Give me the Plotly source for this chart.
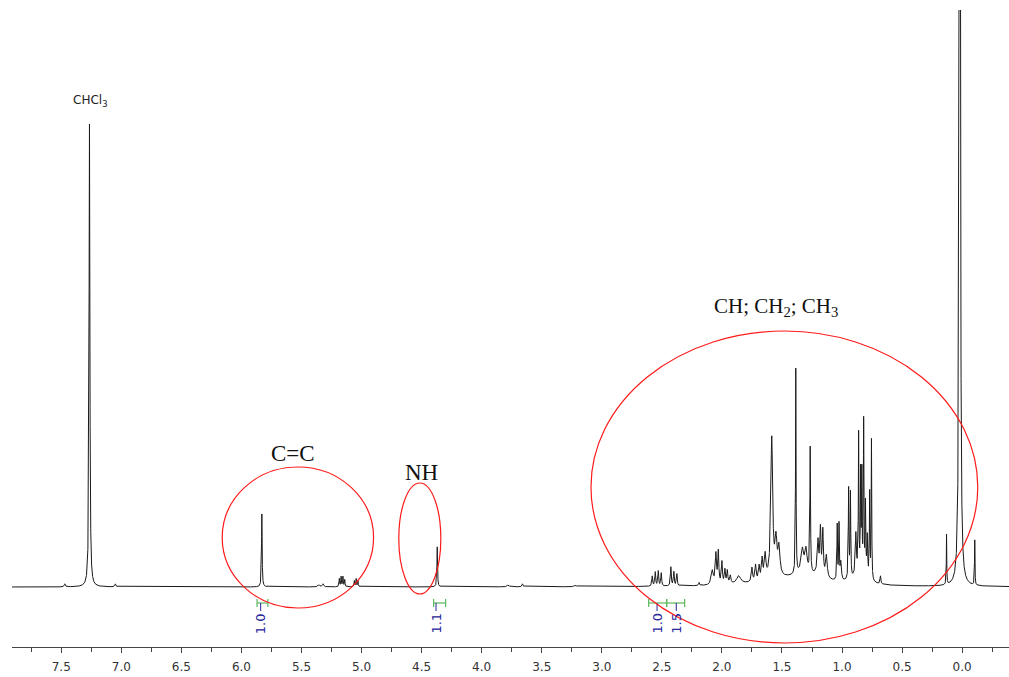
import numpy as np
import plotly.graph_objects as go

# ---- peak list (ppm, height, half-width in ppm) ----
peak_ppm = [7.265, 7.47, 7.05, 5.83, 5.355, 5.32, 5.185, 5.17, 5.155, 5.14,
            5.06, 5.045, 5.03, 4.37, 3.78, 3.66, 3.22,
            2.58, 2.555, 2.53, 2.505, 2.425, 2.40, 2.375, 2.19,
            2.08, 2.05, 2.03, 2.00, 1.975, 1.955, 1.93, 1.86,
            1.75, 1.72, 1.69, 1.665, 1.64, 1.585, 1.55, 1.525,
            1.385, 1.33, 1.30, 1.265, 1.20, 1.18, 1.16, 1.13,
            1.04, 1.025, 1.01, 0.945, 0.93, 0.885, 0.862, 0.845, 0.835,
            0.82, 0.805, 0.79, 0.77, 0.755, 0.68, 0.13, 0.02, -0.105,
            1.4, 1.32, 1.19, 0.85]
peak_height = [463, 3, 3, 73, 2, 3, 8, 10, 10, 7,
               6, 8, 6, 40, 2, 3, 1.5,
               10, 14, 15, 13, 19, 14, 12, 3,
               14, 30, 32, 22, 14, 13, 8, 8,
               14, 16, 14, 20, 24, 140, 35, 28,
               205, 18, 20, 125, 30, 42, 43, 22,
               55, 55, 18, 90, 85, 40, 135, 95, 95,
               150, 70, 40, 85, 140, 8, 50, 3000, 45,
               9, 10, 8, 14]
peak_width = [0.004, 0.005, 0.005, 0.003, 0.01, 0.006, 0.003, 0.003, 0.003, 0.003,
              0.003, 0.003, 0.003, 0.003, 0.008, 0.005, 0.01,
              0.004, 0.004, 0.004, 0.004, 0.004, 0.004, 0.004, 0.004,
              0.01, 0.006, 0.005, 0.005, 0.005, 0.005, 0.006, 0.02,
              0.006, 0.006, 0.006, 0.006, 0.008, 0.009, 0.01, 0.01,
              0.0025, 0.01, 0.01, 0.003, 0.006, 0.005, 0.005, 0.008,
              0.003, 0.003, 0.006, 0.003, 0.003, 0.005, 0.0025, 0.0025, 0.0025,
              0.0025, 0.003, 0.004, 0.0025, 0.0025, 0.004, 0.002, 0.003, 0.002,
              0.3, 0.04, 0.04, 0.05]

# ---- integrations ----
int_labels = ["1.0", "1.1", "1.0", "1.5"]
int_from = [5.87, 4.40, 2.61, 2.46]
int_to = [5.78, 4.30, 2.46, 2.31]
int_pos = [5.84, 4.38, 2.54, 2.38]

# ---- axis ----
x_ticks = [7.5, 7.0, 6.5, 6.0, 5.5, 5.0, 4.5, 4.0, 3.5, 3.0, 2.5, 2.0, 1.5, 1.0, 0.5, 0.0]
x_range = [7.91, -0.39]
y_range = [-60, 577]

ppm = np.arange(x_range[1], x_range[0], 0.0005)
ppm = np.unique(np.concatenate([ppm, peak_ppm]))
intensity = np.zeros_like(ppm)
for c, h, w in zip(peak_ppm, peak_height, peak_width):
    intensity += h / (1 + ((ppm - c) / w) ** 2)

fig = go.Figure()
fig.add_trace(go.Scatter(x=ppm, y=intensity, mode="lines",
                         line=dict(color="#1a1a1a", width=1),
                         hoverinfo="skip", showlegend=False))

# integral brackets and labels
green = "#5cb85c"
blue = "#25259a"
for lab, a, b, p in zip(int_labels, int_from, int_to, int_pos):
    fig.add_shape(type="line", x0=a, x1=b, y0=-16, y1=-16, line=dict(color=green, width=1.2))
    for e in (a, b):
        fig.add_shape(type="line", x0=e, x1=e, y0=-12, y1=-20, line=dict(color=green, width=1.2))
    fig.add_shape(type="line", x0=p, x1=p, y0=-16, y1=-24, line=dict(color=blue, width=1))
    fig.add_annotation(x=p, y=-24, text=lab, showarrow=False, textangle=-90,
                       yanchor="top", font=dict(family="DejaVu Sans", size=13, color=blue))

# red ellipses
red = "#ff1a1a"
for x0, x1, y0, y1 in [(6.16, 4.90, -21, 120), (4.69, 4.34, -7, 104), (3.09, -0.13, -56, 256)]:
    fig.add_shape(type="circle", x0=x0, x1=x1, y0=y0, y1=y1, line=dict(color=red, width=1.2))

# labels
fig.add_annotation(x=7.26, y=486, text="CHCl<sub>3</sub>", showarrow=False,
                   font=dict(family="DejaVu Sans", size=12, color="#222"))
fig.add_annotation(x=5.57, y=134, text="C=C", showarrow=False,
                   font=dict(family="Liberation Serif", size=23, color="#111"))
fig.add_annotation(x=4.50, y=115, text="NH", showarrow=False,
                   font=dict(family="Liberation Serif", size=23, color="#111"))
fig.add_annotation(x=1.55, y=280, text="CH; CH<sub>2</sub>; CH<sub>3</sub>", showarrow=False,
                   font=dict(family="Liberation Serif", size=21, color="#111"))

fig.update_layout(
    width=1009, height=677,
    margin=dict(l=12, r=0, t=10, b=30),
    paper_bgcolor="white", plot_bgcolor="white",
    xaxis=dict(range=x_range, tickvals=x_ticks, ticktext=[f"{v:.1f}" for v in x_ticks],
               showgrid=False, zeroline=False, showline=True, linecolor="#444", linewidth=1,
               ticks="outside", ticklen=5, tickcolor="#444", ticklabelstandoff=4,
               minor=dict(dtick=0.25, tick0=0, ticks="outside", ticklen=4, tickcolor="#444"),
               tickfont=dict(family="DejaVu Sans", size=12, color="#333")),
    yaxis=dict(range=y_range, visible=False, showgrid=False, zeroline=False),
)
fig.write_html("out.html", config={"displayModeBar": False},
               post_script="document.body.style.margin='0';document.body.style.overflow='hidden';")
